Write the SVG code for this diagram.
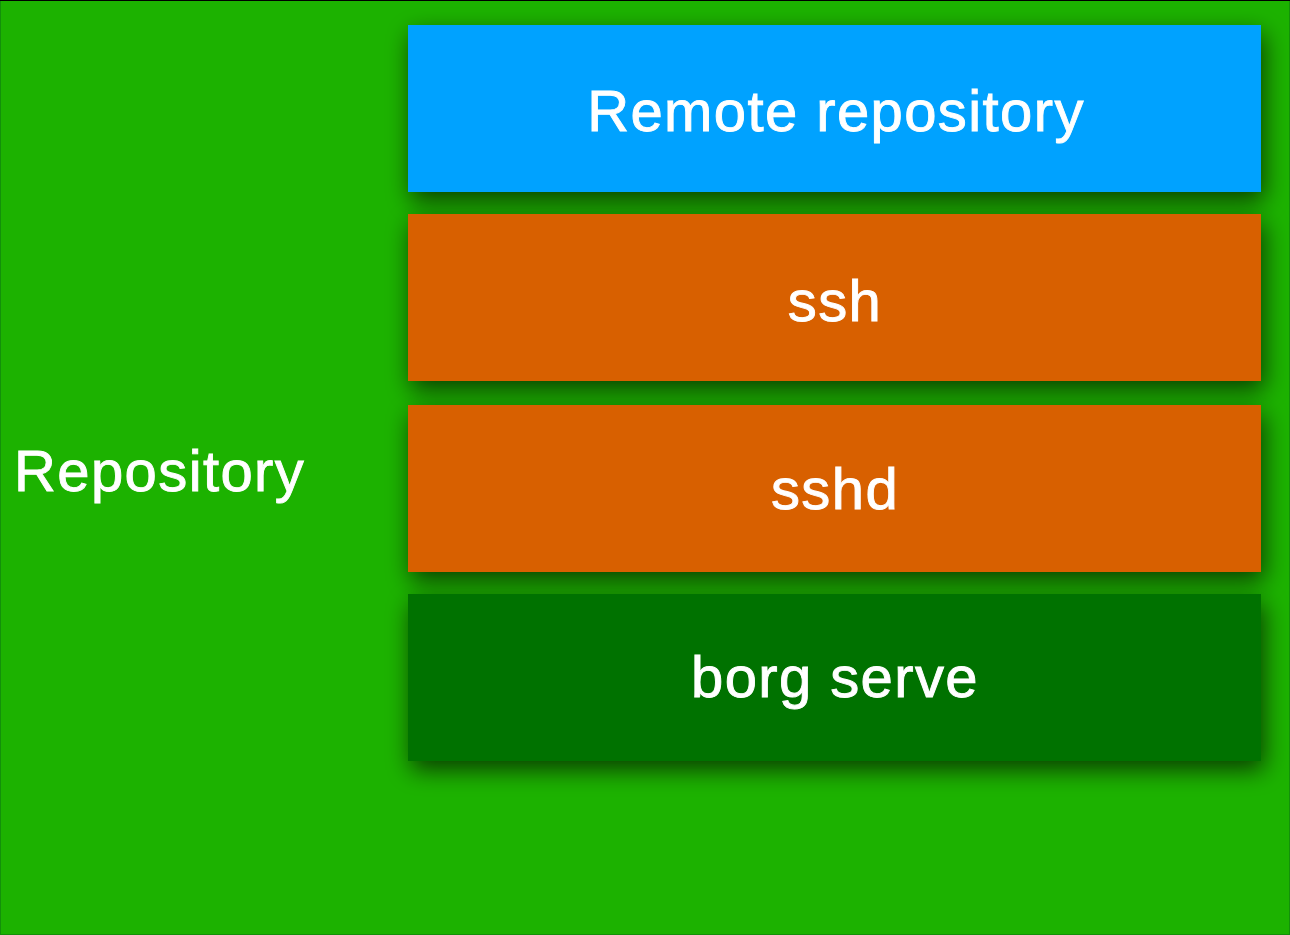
<svg xmlns="http://www.w3.org/2000/svg" width="1290" height="935" viewBox="0 0 1290 935">
  <style>
    .label { font-family: "Liberation Sans", Arial, Helvetica, sans-serif; font-size: 58px; fill: #ffffff; stroke: #ffffff; stroke-width: 0.9px; letter-spacing: 1.4px; }
    .mid { text-anchor: middle; }
  </style>
  <defs>
    <filter id="drop" x="-10%" y="-40%" width="120%" height="190%">
      <feGaussianBlur in="SourceAlpha" stdDeviation="12"/>
      <feOffset dx="3" dy="9" result="blur"/>
      <feComponentTransfer>
        <feFuncA type="linear" slope="0.65"/>
      </feComponentTransfer>
      <feMerge>
        <feMergeNode/>
        <feMergeNode in="SourceGraphic"/>
      </feMerge>
    </filter>
  </defs>

  <!-- backdrop -->
  <rect x="0" y="0" width="1290" height="935" fill="#1cb200"/>
  <rect x="0.5" y="0.5" width="1289" height="934" fill="none" stroke="#13900a" stroke-width="1"/>
  <line x1="0" y1="0.5" x2="1290" y2="0.5" stroke="#000000" stroke-width="1"/>

  <g id="repository">
    <text class="label" x="14" y="491">Repository</text>
  </g>

  <g id="remote-repository" filter="url(#drop)">
    <rect x="408" y="25" width="853" height="167" fill="#00a2ff"/>
    <text class="label mid" x="836" y="131">Remote repository</text>
  </g>

  <g id="ssh" filter="url(#drop)">
    <rect x="408" y="214" width="853" height="167" fill="#d86000"/>
    <text class="label mid" x="835" y="321">ssh</text>
  </g>

  <g id="sshd" filter="url(#drop)">
    <rect x="408" y="405" width="853" height="167" fill="#d86000"/>
    <text class="label mid" x="835" y="509">sshd</text>
  </g>

  <g id="borg-serve" filter="url(#drop)">
    <rect x="408" y="594" width="853" height="167" fill="#007200"/>
    <text class="label mid" x="835" y="697">borg serve</text>
  </g>

  <g id="connectors"/>
</svg>
